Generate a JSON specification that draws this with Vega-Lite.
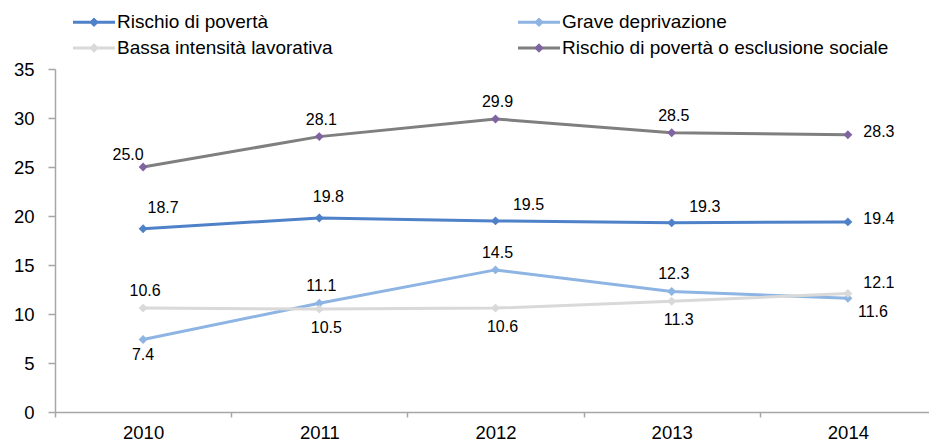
{
  "$schema": "https://vega.github.io/schema/vega-lite/v6.json",
  "width": 874,
  "height": 343,
  "autosize": {"type": "none"},
  "padding": {"left": 55, "top": 69, "right": 0, "bottom": 29},
  "background": "white",
  "config": {
    "view": {"stroke": null},
    "font": "Liberation Sans",
    "text": {"font": "Liberation Sans", "fontSize": 16, "color": "#000000"}
  },
  "data": {
    "values": [
      {"anno": 2010, "serie": "Rischio di povertà", "valore": 18.7},
      {"anno": 2011, "serie": "Rischio di povertà", "valore": 19.8},
      {"anno": 2012, "serie": "Rischio di povertà", "valore": 19.5},
      {"anno": 2013, "serie": "Rischio di povertà", "valore": 19.3},
      {"anno": 2014, "serie": "Rischio di povertà", "valore": 19.4},
      {"anno": 2010, "serie": "Grave deprivazione", "valore": 7.4},
      {"anno": 2011, "serie": "Grave deprivazione", "valore": 11.1},
      {"anno": 2012, "serie": "Grave deprivazione", "valore": 14.5},
      {"anno": 2013, "serie": "Grave deprivazione", "valore": 12.3},
      {"anno": 2014, "serie": "Grave deprivazione", "valore": 11.6},
      {"anno": 2010, "serie": "Bassa intensità lavorativa", "valore": 10.6},
      {"anno": 2011, "serie": "Bassa intensità lavorativa", "valore": 10.5},
      {"anno": 2012, "serie": "Bassa intensità lavorativa", "valore": 10.6},
      {"anno": 2013, "serie": "Bassa intensità lavorativa", "valore": 11.3},
      {"anno": 2014, "serie": "Bassa intensità lavorativa", "valore": 12.1},
      {"anno": 2010, "serie": "Rischio di povertà o esclusione sociale", "valore": 25.0},
      {"anno": 2011, "serie": "Rischio di povertà o esclusione sociale", "valore": 28.1},
      {"anno": 2012, "serie": "Rischio di povertà o esclusione sociale", "valore": 29.9},
      {"anno": 2013, "serie": "Rischio di povertà o esclusione sociale", "valore": 28.5},
      {"anno": 2014, "serie": "Rischio di povertà o esclusione sociale", "valore": 28.3}
    ]
  },
  "encoding": {
    "x": {
      "field": "anno",
      "type": "ordinal",
      "scale": {"type": "band", "range": [0, 881], "paddingInner": 0, "paddingOuter": 0},
      "axis": {
        "title": null,
        "labelAngle": 0,
        "tickBand": "extent",
        "domainColor": "#a6a6a6",
        "domainWidth": 1.5,
        "tickColor": "#a6a6a6",
        "tickWidth": 1.5,
        "tickSize": 5,
        "labelFontSize": 18.5,
        "labelFont": "Liberation Sans",
        "labelColor": "#000000",
        "labelPadding": 6,
        "grid": false
      }
    },
    "y": {
      "field": "valore",
      "type": "quantitative",
      "scale": {"domain": [0, 35]},
      "axis": {
        "title": null,
        "values": [0, 5, 10, 15, 20, 25, 30, 35],
        "domainColor": "#a6a6a6",
        "domainWidth": 1.5,
        "tickColor": "#a6a6a6",
        "tickWidth": 1.5,
        "tickSize": 7,
        "labelFontSize": 18.5,
        "labelFont": "Liberation Sans",
        "labelColor": "#000000",
        "labelPadding": 14,
        "grid": false
      }
    }
  },
  "layer": [
    {
      "mark": {"type": "line", "strokeWidth": 3},
      "encoding": {
        "color": {
          "field": "serie",
          "type": "nominal",
          "scale": {
            "domain": ["Rischio di povertà", "Grave deprivazione", "Bassa intensità lavorativa", "Rischio di povertà o esclusione sociale"],
            "range": ["#4f81c9", "#8db4e2", "#d9d9d9", "#7f7f7f"]
          },
          "legend": {
            "orient": "none",
            "legendX": 28.5,
            "legendY": -57.5,
            "direction": "horizontal",
            "columns": 2,
            "columnPadding": 185,
            "rowPadding": 5,
            "title": null,
            "padding": 0,
            "symbolType": "M-2,-0.143H2V0.143H-2Z M0,-0.44L0.44,0L0,0.44L-0.44,0Z",
            "symbolSize": 441,
            "symbolStrokeWidth": 0,
            "labelFontSize": 19,
            "labelFont": "Liberation Sans",
            "labelColor": "#000000",
            "labelOffset": 12.5,
            "labelLimit": 500,
            "encode": {
              "symbols": {
                "update": {
                  "fill": {"scale": "color", "field": "value"},
                  "stroke": {"value": "transparent"}
                }
              }
            }
          }
        }
      }
    },
    {
      "mark": {"type": "point", "shape": "diamond", "filled": true, "size": 80, "opacity": 1, "strokeWidth": 0},
      "encoding": {
        "fill": {
          "field": "serie",
          "type": "nominal",
          "scale": {
            "domain": ["Rischio di povertà", "Grave deprivazione", "Bassa intensità lavorativa", "Rischio di povertà o esclusione sociale", " "],
            "range": ["#4f81c9", "#8db4e2", "#d9d9d9", "#8064a2", "transparent"]
          },
          "legend": {
            "orient": "none",
            "legendX": 28.5,
            "legendY": -57.5,
            "direction": "horizontal",
            "columns": 2,
            "columnPadding": 185,
            "rowPadding": 5,
            "title": null,
            "padding": 0,
            "values": ["Rischio di povertà", "Grave deprivazione", "Bassa intensità lavorativa", "Rischio di povertà o esclusione sociale"],
            "symbolType": "M-2,0L-2,0M2,0L2,0M0,-0.44L0.44,0L0,0.44L-0.44,0Z",
            "symbolSize": 441,
            "symbolStrokeWidth": 0,
            "labelFontSize": 19,
            "labelFont": "Liberation Sans",
            "labelColor": "transparent",
            "labelOffset": 12.5,
            "labelLimit": 500,
            "encode": {
              "symbols": {
                "update": {
                  "fill": {"scale": "fill", "field": "value"},
                  "stroke": {"value": "transparent"}
                }
              }
            }
          }
        }
      }
    },
    {
      "transform": [{"filter": "(datum.serie === 'Rischio di povertà o esclusione sociale' && datum.anno >= 2011 && datum.anno <= 2013) || (datum.serie === 'Grave deprivazione' && datum.anno >= 2011 && datum.anno <= 2013) || (datum.serie === 'Bassa intensità lavorativa' && datum.anno === 2010)"}],
      "mark": {"type": "text", "dx": 2, "dy": -17},
      "encoding": {"text": {"field": "valore", "type": "quantitative", "format": ".1f"}}
    },
    {
      "transform": [{"filter": "datum.serie === 'Rischio di povertà o esclusione sociale' && datum.anno === 2010"}],
      "mark": {"type": "text", "dx": -15, "dy": -12},
      "encoding": {"text": {"field": "valore", "type": "quantitative", "format": ".1f"}}
    },
    {
      "transform": [{"filter": "datum.serie === 'Rischio di povertà' && datum.anno === 2010"}],
      "mark": {"type": "text", "dx": 20, "dy": -21},
      "encoding": {"text": {"field": "valore", "type": "quantitative", "format": ".1f"}}
    },
    {
      "transform": [{"filter": "datum.serie === 'Rischio di povertà' && datum.anno === 2011"}],
      "mark": {"type": "text", "dx": 9, "dy": -21},
      "encoding": {"text": {"field": "valore", "type": "quantitative", "format": ".1f"}}
    },
    {
      "transform": [{"filter": "datum.serie === 'Rischio di povertà' && (datum.anno === 2012 || datum.anno === 2013)"}],
      "mark": {"type": "text", "dx": 33, "dy": -16},
      "encoding": {"text": {"field": "valore", "type": "quantitative", "format": ".1f"}}
    },
    {
      "transform": [{"filter": "datum.anno === 2014 && (datum.serie === 'Rischio di povertà' || datum.serie === 'Rischio di povertà o esclusione sociale')"}],
      "mark": {"type": "text", "dx": 31, "dy": -3},
      "encoding": {"text": {"field": "valore", "type": "quantitative", "format": ".1f"}}
    },
    {
      "transform": [{"filter": "datum.anno === 2014 && datum.serie === 'Bassa intensità lavorativa'"}],
      "mark": {"type": "text", "dx": 31, "dy": -10},
      "encoding": {"text": {"field": "valore", "type": "quantitative", "format": ".1f"}}
    },
    {
      "transform": [{"filter": "datum.anno === 2014 && datum.serie === 'Grave deprivazione'"}],
      "mark": {"type": "text", "dx": 25, "dy": 14},
      "encoding": {"text": {"field": "valore", "type": "quantitative", "format": ".1f"}}
    },
    {
      "transform": [{"filter": "datum.serie === 'Bassa intensità lavorativa' && datum.anno >= 2011 && datum.anno <= 2013"}],
      "mark": {"type": "text", "dx": 7, "dy": 19},
      "encoding": {"text": {"field": "valore", "type": "quantitative", "format": ".1f"}}
    },
    {
      "transform": [{"filter": "datum.serie === 'Grave deprivazione' && datum.anno === 2010"}],
      "mark": {"type": "text", "dx": 0, "dy": 16},
      "encoding": {"text": {"field": "valore", "type": "quantitative", "format": ".1f"}}
    }
  ]
}
